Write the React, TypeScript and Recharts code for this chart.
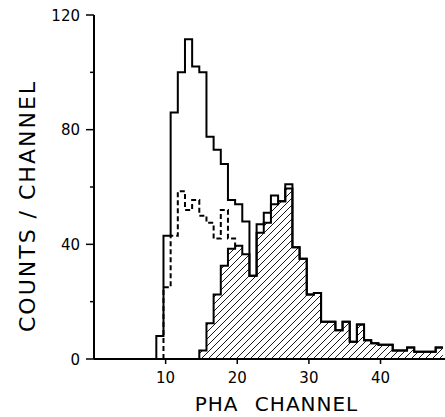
import { ComposedChart, Line, Area, XAxis, YAxis, Label } from 'recharts';

// PHA channels, one bin per channel
const channels = [
  9, 10, 11, 12, 13, 14, 15, 16, 17, 18, 19, 20, 21, 22, 23, 24, 25, 26, 27, 28,
  29, 30, 31, 32, 33, 34, 35, 36, 37, 38, 39, 40, 41, 42, 43, 44, 45, 46, 47, 48,
];
// solid trace: all counts
const totalCounts = [
  8, 43, 86, 100, 111.5, 102, 100, 77.5, 73, 68, 55.5, 54, 48, 29, 47, 51, 57, 55, 61, 39,
  35, 22.5, 23, 13, 13, 10, 13, 6, 12, 6.5, 5.5, 5, 5, 3, 3, 4, 2.5, 2.5, 2.5, 4,
];
// dashed trace
const dashedChannels = [10, 11, 12, 13, 14, 15, 16, 17, 18, 19];
const dashedCounts = [25, 43, 58.5, 52, 55.5, 50, 47.5, 42, 52, 42];
const dashedEndCount = 39.5; // meets the hatched trace here
// hatched trace
const hatchedChannels = [
  15, 16, 17, 18, 19, 20, 21, 22, 23, 24, 25, 26, 27, 28, 29, 30, 31, 32, 33, 34,
  35, 36, 37, 38, 39, 40, 41, 42, 43, 44, 45, 46, 47, 48,
];
const hatchedCounts = [
  3, 12.5, 22.5, 32.5, 38.5, 39.5, 36.5, 29, 44, 47.5, 54, 55, 59.5, 39, 35, 22.5, 23, 13, 13, 10,
  13, 6, 12, 6.5, 5.5, 5, 5, 3, 3, 4, 2.5, 2.5, 2.5, 4,
];

const xTicks = [10, 20, 30, 40];
const yTicks = [0, 20, 40, 60, 80, 100, 120];

const EDGE = 0.3; // bins start a bit below the channel number
const FONT = '"DejaVu Sans", sans-serif';

function steps(ch: number[], counts: number[], end?: number) {
  const pts = [{ x: ch[0] - EDGE, y: 0 }];
  ch.forEach((c, i) => pts.push({ x: c - EDGE, y: counts[i] }));
  pts.push({ x: ch[ch.length - 1] + 1 - EDGE, y: end ?? counts[counts.length - 1] });
  return pts;
}

const totalData = steps(channels, totalCounts);
const dashedData = steps(dashedChannels, dashedCounts, dashedEndCount);
const hatchedData = steps(hatchedChannels, hatchedCounts);

function YTick({ x, y, payload }: any) {
  const major = payload.value % 40 === 0;
  return (
    <g>
      <line x1={x - (major ? 8 : 4)} x2={x} y1={y} y2={y} stroke="#000" strokeWidth={1.5} />
      {major && (
        <text x={x - 14} y={y} dy={5.5} textAnchor="end" fontSize={15} fontFamily={FONT} fill="#000">
          {payload.value}
        </text>
      )}
    </g>
  );
}

export default function App() {
  return (
    <div style={{ width: 445, height: 417, background: '#fff' }}>
      <style>{'body{margin:0;overflow:hidden}'}</style>
      <ComposedChart width={445} height={417} margin={{ top: 15, right: 0, bottom: 0, left: 0 }}>
        <defs>
          <pattern id="hatch" patternUnits="userSpaceOnUse" width={7} height={7}>
            <path d="M0,7 L7,0 M-1,1 L1,-1 M6,8 L8,6" stroke="#000" strokeWidth={0.9} />
          </pattern>
        </defs>
        <XAxis
          type="number"
          dataKey="x"
          domain={[0, 49]}
          allowDataOverflow
          ticks={xTicks}
          height={58}
          tickSize={5}
          tickMargin={8}
          axisLine={{ stroke: '#000', strokeWidth: 2 }}
          tickLine={{ stroke: '#000', strokeWidth: 1.5 }}
          tick={{ fill: '#000', fontSize: 15, fontFamily: FONT }}
        >
          <Label
            content={(p: any) => {
              const vb = p.viewBox;
              return (
                <text
                  x={vb.x + vb.width / 2 + 7}
                  y={vb.y + 52}
                  textAnchor="middle"
                  fontSize={20}
                  fontFamily={FONT}
                  fill="#000"
                  style={{ wordSpacing: 9, letterSpacing: 1 }}
                >
                  PHA CHANNEL
                </text>
              );
            }}
          />
        </XAxis>
        <YAxis
          type="number"
          domain={[0, 120]}
          ticks={yTicks}
          width={94}
          tickSize={0}
          tickMargin={0}
          axisLine={{ stroke: '#000', strokeWidth: 2 }}
          tickLine={false}
          tick={<YTick />}
        >
          <Label
            content={(p: any) => {
              const vb = p.viewBox;
              const cx = vb.x + 35;
              const cy = vb.y + vb.height / 2 + 19;
              return (
                <text
                  x={cx}
                  y={cy}
                  transform={`rotate(-90 ${cx} ${cy})`}
                  textAnchor="middle"
                  fontSize={22}
                  fontFamily={FONT}
                  fill="#000"
                  style={{ letterSpacing: 2 }}
                >
                  COUNTS / CHANNEL
                </text>
              );
            }}
          />
        </YAxis>
        <Area
          data={hatchedData}
          dataKey="y"
          type="stepAfter"
          stroke="#000"
          strokeWidth={2}
          fill="url(#hatch)"
          fillOpacity={1}
          isAnimationActive={false}
          dot={false}
          activeDot={false}
        />
        <Line
          data={totalData}
          dataKey="y"
          type="stepAfter"
          stroke="#000"
          strokeWidth={2}
          dot={false}
          activeDot={false}
          isAnimationActive={false}
        />
        <Line
          data={dashedData}
          dataKey="y"
          type="stepAfter"
          stroke="#000"
          strokeWidth={2}
          strokeDasharray="5 3"
          dot={false}
          activeDot={false}
          isAnimationActive={false}
        />
      </ComposedChart>
    </div>
  );
}
